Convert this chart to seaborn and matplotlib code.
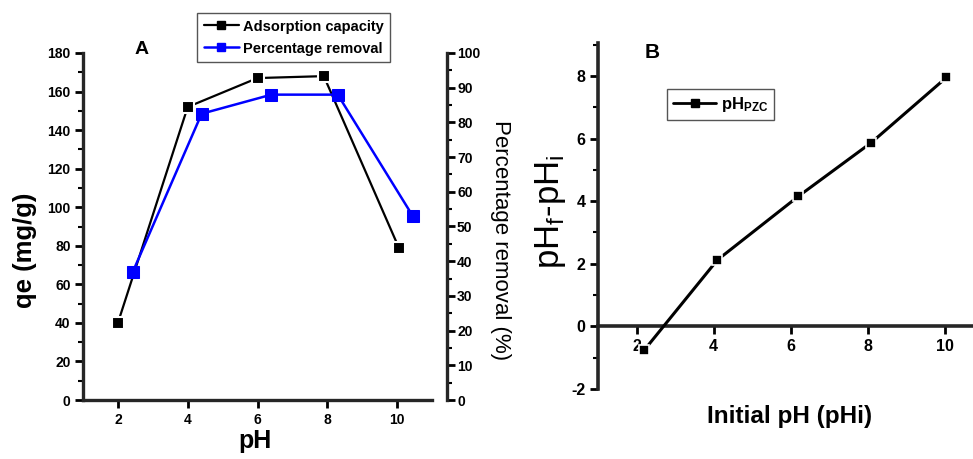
import matplotlib
matplotlib.use("Agg")
import matplotlib.pyplot as plt
import seaborn as sns
import pandas as pd
from matplotlib.ticker import MultipleLocator
from matplotlib.lines import Line2D

# --- Panel A: effect of pH on adsorption ---
ph_capacity = [2.0, 4.0, 6.0, 7.9, 10.05]
capacity = [40, 152, 167, 168, 79]          # qe (mg/g)
ph_removal = [2.43, 4.4, 6.4, 8.3, 10.45]
removal = [37, 82.5, 88, 88, 53]            # percentage removal (%)

# --- Panel B: point of zero charge ---
ph_initial = [2.2, 4.1, 6.2, 8.1, 10.05]
delta_ph = [-0.76, 2.12, 4.15, 5.87, 7.95]  # pHf - pHi

sns.set_style("ticks")
plt.rcParams["font.family"] = ["Liberation Sans", "DejaVu Sans"]
plt.rcParams["mathtext.fontset"] = "custom"
plt.rcParams["mathtext.rm"] = "Liberation Sans"
plt.rcParams["mathtext.bf"] = "Liberation Sans:bold"
plt.rcParams["mathtext.it"] = "Liberation Sans:italic"
plt.rcParams["axes.unicode_minus"] = False
for key in ("text.color", "axes.labelcolor", "xtick.color", "ytick.color",
            "xtick.labelcolor", "ytick.labelcolor"):
    plt.rcParams[key] = "black"

W, H = 973, 459
fig = plt.figure(figsize=(W / 100, H / 100), dpi=100)


def px_axes(left, top, right, bottom):
    return fig.add_axes([left / W, 1 - bottom / H, (right - left) / W, (bottom - top) / H])


def style_ticks(ax, axis, size):
    ax.tick_params(axis=axis, which="major", direction="out", length=6, width=2,
                   labelsize=size, pad=3, color="black", labelcolor="black")
    ax.tick_params(axis=axis, which="minor", direction="out", length=3.5, width=1.5,
                   color="black")


# ---------------- Panel A ----------------
axA = px_axes(83, 53, 432, 400)
dfA1 = pd.DataFrame({"pH": ph_capacity, "qe": capacity})
dfA2 = pd.DataFrame({"pH": ph_removal, "removal": removal})

sns.lineplot(data=dfA1, x="pH", y="qe", ax=axA, color="black", lw=1.6,
             marker="s", markersize=9, markerfacecolor="black",
             markeredgecolor="white", markeredgewidth=1.5,
             sort=False, estimator=None, zorder=3)
axA.set_xlim(1, 11)
axA.set_ylim(0, 180)
axA.xaxis.set_major_locator(MultipleLocator(2))
axA.yaxis.set_major_locator(MultipleLocator(20))
axA.yaxis.set_minor_locator(MultipleLocator(10))
for s in ("top", "right"):
    axA.spines[s].set_visible(False)
for s in ("left", "bottom"):
    axA.spines[s].set_linewidth(2.4)
style_ticks(axA, "both", 10)
for lab in axA.get_xticklabels() + axA.get_yticklabels():
    lab.set_fontweight("bold")
axA.set_xlabel("")
axA.set_ylabel("")
fig.text(255 / W, 1 - 441 / H, "pH", fontsize=18, fontweight="bold",
         ha="center", va="center")
fig.text(25 / W, 1 - 250 / H, "qe (mg/g)", fontsize=18.5, fontweight="bold",
         rotation=90, ha="center", va="center")

axA2 = axA.twinx()
sns.lineplot(data=dfA2, x="pH", y="removal", ax=axA2, color="#0000ff", lw=1.8,
             marker="s", markersize=8, markerfacecolor="#0000ff",
             markeredgecolor="#0000ff", sort=False, estimator=None, zorder=2)
axA2.set_ylim(0, 100)
axA2.yaxis.set_major_locator(MultipleLocator(10))
axA2.yaxis.set_minor_locator(MultipleLocator(5))
for s in ("top", "left", "bottom"):
    axA2.spines[s].set_visible(False)
axA2.spines["right"].set_position(("outward", 11))
axA2.spines["right"].set_linewidth(2.4)
style_ticks(axA2, "y", 10)
axA2.tick_params(axis="y", which="major", pad=1)
for lab in axA2.get_yticklabels():
    lab.set_fontweight("bold")
axA2.set_ylabel("")
axA2.set_xlabel("")
fig.text(500 / W, 1 - 240 / H, "Percentage removal (%)", fontsize=16,
         rotation=270, ha="center", va="center")

fig.text(142 / W, 1 - 50 / H, "A", fontsize=14, fontweight="bold",
         ha="center", va="center")

handlesA = [
    Line2D([], [], color="black", lw=1.6, marker="s", markersize=6,
           markerfacecolor="black", markeredgecolor="black"),
    Line2D([], [], color="#0000ff", lw=1.8, marker="s", markersize=6,
           markerfacecolor="#0000ff", markeredgecolor="#0000ff"),
]
legA = axA.legend(handlesA, ["Adsorption capacity", "Percentage removal"],
                  loc="upper left", bbox_to_anchor=(197 / W, 1 - 13 / H),
                  bbox_transform=fig.transFigure, borderaxespad=0,
                  prop={"size": 10.5, "weight": "bold"}, handlelength=2.4,
                  handletextpad=0.3, labelspacing=0.55, borderpad=0.45,
                  frameon=True, fancybox=False, edgecolor="#555555",
                  framealpha=1)
legA.get_frame().set_linewidth(1.0)

# ---------------- Panel B ----------------
axB = px_axes(598, 43, 973, 389)
dfB = pd.DataFrame({"pHi": ph_initial, "delta": delta_ph})
sns.lineplot(data=dfB, x="pHi", y="delta", ax=axB, color="black", lw=2.2,
             marker="s", markersize=6.5, markerfacecolor="black",
             markeredgecolor="white", markeredgewidth=1.2,
             sort=False, estimator=None, zorder=3)
axB.set_xlim(1, 10.74)
axB.set_ylim(-2, 9.05)
axB.xaxis.set_major_locator(MultipleLocator(2))
axB.yaxis.set_major_locator(MultipleLocator(2))
axB.yaxis.set_minor_locator(MultipleLocator(1))
for s in ("top", "right"):
    axB.spines[s].set_visible(False)
axB.spines["bottom"].set_position(("data", 0))
for s in ("left", "bottom"):
    axB.spines[s].set_linewidth(2.6)
style_ticks(axB, "both", 11.5)
for lab in axB.get_xticklabels() + axB.get_yticklabels():
    lab.set_fontweight("bold")
axB.set_xlabel("")
axB.set_ylabel("")
fig.text(790 / W, 1 - 417 / H, "Initial pH (pHi)", fontsize=17.5,
         fontweight="bold", ha="center", va="center")
fig.text(551 / W, 1 - 212 / H, r"$\mathregular{pH_f}$-$\mathregular{pH_i}$",
         fontsize=25, rotation=90, ha="center", va="center")
fig.text(652 / W, 1 - 53 / H, "B", fontsize=15, fontweight="bold",
         ha="center", va="center")

handlesB = [Line2D([], [], color="black", lw=2.0, marker="s", markersize=6,
                   markerfacecolor="black", markeredgecolor="black")]
legB = axB.legend(handlesB, [r"$\mathbf{pH_{PZC}}$"], loc="upper left",
                  bbox_to_anchor=(667 / W, 1 - 89 / H),
                  bbox_transform=fig.transFigure, borderaxespad=0,
                  prop={"size": 12}, handlelength=2.6, handletextpad=0.3,
                  borderpad=0.35, frameon=True, fancybox=False,
                  edgecolor="#555555", framealpha=1)
legB.get_frame().set_linewidth(1.0)

fig.savefig("out.png", dpi=100)
